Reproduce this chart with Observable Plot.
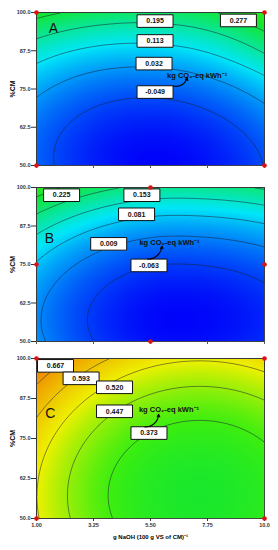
<!DOCTYPE html>
<html>
<head>
<meta charset="utf-8">
<script src="https://cdn.jsdelivr.net/npm/d3@7"></script>
<script src="https://cdn.jsdelivr.net/npm/@observablehq/plot@0.6"></script>
<style>
  html, body { margin: 0; padding: 0; background: #fff; }
  #chart { width: 278px; }
  #chart svg { display: block; }
  .panel g[aria-label="y-axis label"] text { font-size: 7px; font-weight: bold; }
  .panel g[aria-label="x-axis label"] text { font-size: 6px; font-weight: bold; }
  .panel g[aria-label="y-axis tick label"] text,
  .panel g[aria-label="x-axis tick label"] text { font-weight: bold; fill: #333; }
</style>
</head>
<body>
<div id="chart"></div>
<script>
// ---------- data ----------
// grid nodes (also the axis tick values)
const xNodes = [1, 3.25, 5.5, 7.75, 10];
const yNodes = [50, 62.5, 75, 87.5, 100];
const xTickLabels = ["1.00", "3.25", "5.50", "7.75", "10.0"];
const yTickLabels = ["50.0", "62.5", "75.0", "87.5", "100.0"];

// response (kg CO2-eq kWh-1) estimated at the grid nodes; rows = %CM, cols = NaOH dose
const gridA = [
  [-0.022, -0.093, -0.122, -0.106, -0.047],
  [-0.010, -0.076, -0.098, -0.077, -0.013],
  [ 0.049, -0.012, -0.029, -0.002,  0.070],
  [ 0.153,  0.098,  0.087,  0.119,  0.205],
  [ 0.304,  0.255,  0.240,  0.268,  0.350]
];
const gridB = [
  [ 0.026, -0.062, -0.107, -0.108, -0.078],
  [ 0.023, -0.065, -0.110, -0.112, -0.082],
  [ 0.075, -0.014, -0.059, -0.060, -0.032],
  [ 0.181,  0.092,  0.047,  0.046,  0.073],
  [ 0.341,  0.253,  0.208,  0.207,  0.234]
];
const gridC = [
  [0.527, 0.403, 0.331, 0.311, 0.345],
  [0.525, 0.400, 0.328, 0.309, 0.342],
  [0.560, 0.436, 0.364, 0.345, 0.378],
  [0.633, 0.509, 0.437, 0.418, 0.451],
  [0.744, 0.619, 0.547, 0.528, 0.561]
];

// contour levels
const levelsA = [-0.049, 0.032, 0.113, 0.195, 0.277];
const levelsB = [-0.063, 0.009, 0.081, 0.153, 0.225, 0.297];
const levelsC = [0.373, 0.447, 0.520, 0.593, 0.667, 0.740];

// contour labels (value, anchor in data units)
const labelValA = ["0.277", "0.195", "0.113", "0.032", "-0.049"];
const labelXA = [8.97, 5.68, 5.68, 5.64, 5.68];
const labelYA = [97.4, 97.2, 90.7, 83.3, 74.0];
const labelValB = ["0.225", "0.153", "0.081", "0.009", "-0.063"];
const labelXB = [1.99, 5.16, 4.95, 3.85, 5.44];
const labelYB = [97.5, 97.5, 91.3, 81.7, 74.7];
const labelValC = ["0.667", "0.593", "0.520", "0.447", "0.373"];
const labelXC = [1.75, 2.76, 4.08, 4.08, 5.44];
const labelYC = [97.7, 93.8, 91.0, 83.5, 76.7];

// design points (red dots)
const designXA = [1, 10, 1, 10];
const designYA = [50, 50, 100, 100];
const designXB = [1, 10, 5.5, 5.5];
const designYB = [75, 75, 100, 50];
const designXC = [1, 10, 1, 10];
const designYC = [100, 100, 50, 50];

// unit annotation and arrow (data units)
const unitText = "kg CO\u2082-eq kWh\u207B\u00B9";
const unitA = [7.34, 79.4];
const unitB = [6.25, 82.2];
const unitC = [6.23, 84.1];
const arrowA = [6.40, 76.0, 6.95, 78.7];
const arrowB = [5.38, 76.8, 5.95, 81.0];
const arrowC = [5.28, 78.6, 5.82, 82.6];

const panelLetters = ["A", "B", "C"];
const letterA = [1.67, 94.8];
const letterB = [1.51, 83.5];
const letterC = [1.55, 82.7];

// shared colour scale
const colorStops = [-0.125, 0.110, 0.290, 0.370, 0.520, 0.740, 0.86];
const colorRange = ["#0000fa", "#00e6f8", "#12e632", "#3cee10", "#eef000", "#f07000", "#e00000"];

const xLabel = "g NaOH (100 g VS of CM)\u207B\u00B9";
const yLabel = "%CM";

// ---------- smooth surface through the grid nodes (Catmull-Rom) ----------
function cr(p0, p1, p2, p3, t) {
  return 0.5 * (2 * p1 + (-p0 + p2) * t + (2 * p0 - 5 * p1 + 4 * p2 - p3) * t * t + (-p0 + 3 * p1 - 3 * p2 + p3) * t * t * t);
}
function extend(grid) {
  const rows = grid.map(r => [3 * r[0] - 3 * r[1] + r[2], ...r, 3 * r[4] - 3 * r[3] + r[2]]);
  const n = rows.length;
  const first = rows[0].map((_, c) => 3 * rows[0][c] - 3 * rows[1][c] + rows[2][c]);
  const last = rows[0].map((_, c) => 3 * rows[n - 1][c] - 3 * rows[n - 2][c] + rows[n - 3][c]);
  return [first, ...rows, last];
}
function surface(grid) {
  const E = extend(grid);
  const dx = xNodes[1] - xNodes[0], dy = yNodes[1] - yNodes[0];
  return (x, y) => {
    const fx = (x - xNodes[0]) / dx, fy = (y - yNodes[0]) / dy;
    const i = Math.max(0, Math.min(3, Math.floor(fx)));
    const j = Math.max(0, Math.min(3, Math.floor(fy)));
    const tx = fx - i, ty = fy - j;
    const row = k => cr(E[j + k][i], E[j + k][i + 1], E[j + k][i + 2], E[j + k][i + 3], tx);
    return cr(row(0), row(1), row(2), row(3), ty);
  };
}

const boxSymbol = {
  draw(ctx) {
    const w = 18, h = 6.3;
    ctx.moveTo(-w, -h); ctx.lineTo(w, -h); ctx.lineTo(w, h); ctx.lineTo(-w, h); ctx.closePath();
  }
};

function panel(cfg) {
  const f = surface(cfg.grid);
  const labels = cfg.labelVal.map((v, i) => ({v, x: cfg.labelX[i], y: cfg.labelY[i]}));
  const dots = cfg.designX.map((x, i) => ({x, y: cfg.designY[i]}));
  const ext = {x1: xNodes[0], x2: xNodes[4], y1: yNodes[0], y2: yNodes[4]};
  return Plot.plot({
    className: "panel",
    width: 278,
    height: cfg.height,
    marginLeft: 36,
    marginRight: 14,
    marginTop: cfg.marginTop,
    marginBottom: cfg.marginBottom,
    style: {fontFamily: "'Liberation Sans', Arial, sans-serif", background: "#fff"},
    x: {type: "linear", domain: [xNodes[0], xNodes[4]]},
    y: {type: "linear", domain: [yNodes[0], yNodes[4]]},
    color: {type: "linear", domain: colorStops, range: colorRange, clamp: true},
    marks: [
      Plot.raster({fill: f, ...ext, pixelSize: 1}),
      Plot.contour({value: f, ...ext, pixelSize: 1, thresholds: cfg.levels, fill: "none", stroke: "#1b2335", strokeOpacity: 0.75, strokeWidth: 0.7}),
      Plot.frame({stroke: "#3a3a3a", strokeWidth: 0.9}),
      Plot.axisY({ticks: yNodes, tickFormat: (d) => yTickLabels[yNodes.indexOf(d)], tickSize: 5, tickPadding: 1, fontSize: 5.5,
        label: yLabel, labelAnchor: "center", labelOffset: 26, labelArrow: "none", stroke: "#333"}),
      cfg.showX
        ? Plot.axisX({ticks: xNodes, tickFormat: d => xTickLabels[xNodes.indexOf(d)], tickSize: 3, tickPadding: 2, fontSize: 5.5,
            label: xLabel, labelAnchor: "center", labelOffset: 20, labelArrow: "none", stroke: "#333"})
        : Plot.axisX({ticks: xNodes, tickFormat: () => "", tickSize: 3, label: null, stroke: "#555"}),
      Plot.text([cfg.unit], {x: d => d[0], y: d => d[1], text: () => unitText, fontSize: 7.5, fontWeight: "bold", fill: "#111"}),
      Plot.dot(labels, {x: "x", y: "y", symbol: boxSymbol, r: 5, fill: "white", stroke: "#111", strokeWidth: 1}),
      Plot.text(labels, {x: "x", y: "y", text: "v", fontSize: 7, fontWeight: "bold", fill: "#111"}),
      Plot.arrow([cfg.arrow], {x1: d => d[0], y1: d => d[1], x2: d => d[2], y2: d => d[3], bend: -45, headLength: 4, headAngle: 50, stroke: "#000", strokeWidth: 1.1}),
      Plot.text([cfg.letterPos], {x: d => d[0], y: d => d[1], text: () => cfg.letter, fontSize: 14, fill: "#111"}),
      Plot.dot(dots, {x: "x", y: "y", r: 2.3, fill: "#e01010", stroke: "none", clip: false})
    ]
  });
}

const chart = document.getElementById("chart");
chart.append(panel({grid: gridA, levels: levelsA, labelVal: labelValA, labelX: labelXA, labelY: labelYA,
  designX: designXA, designY: designYA, unit: unitA, arrow: arrowA, letter: panelLetters[0], letterPos: letterA,
  height: 175, marginTop: 12, marginBottom: 10, showX: false}));
chart.append(panel({grid: gridB, levels: levelsB, labelVal: labelValB, labelX: labelXB, labelY: labelYB,
  designX: designXB, designY: designYB, unit: unitB, arrow: arrowB, letter: panelLetters[1], letterPos: letterB,
  height: 170, marginTop: 12, marginBottom: 4, showX: false}));
chart.append(panel({grid: gridC, levels: levelsC, labelVal: labelValC, labelX: labelXC, labelY: labelYC,
  designX: designXC, designY: designYC, unit: unitC, arrow: arrowC, letter: panelLetters[2], letterPos: letterC,
  height: 205, marginTop: 13, marginBottom: 32, showX: true}));
</script>
</body>
</html>
